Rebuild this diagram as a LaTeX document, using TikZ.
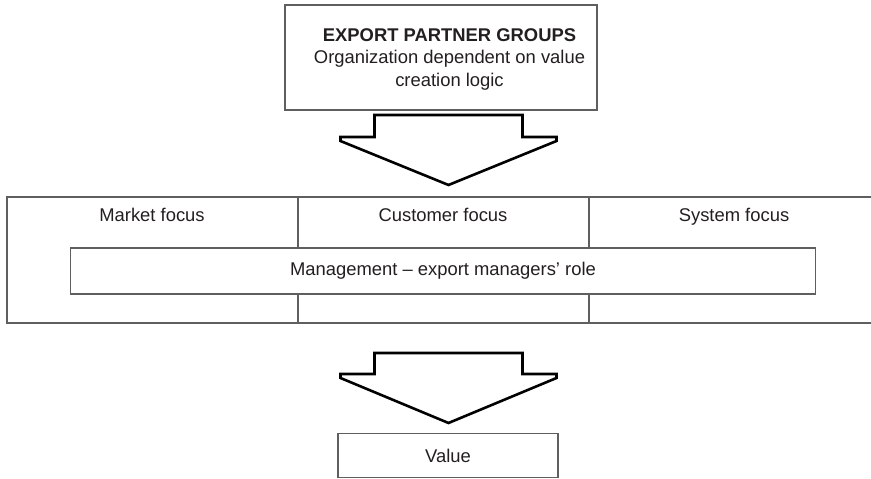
\documentclass[tikz,border=0pt]{standalone}
\usepackage{fontspec}
\setmainfont{Liberation Sans}
\usetikzlibrary{calc}

\definecolor{boxgray}{RGB}{95,95,95}
\definecolor{inkgray}{RGB}{35,31,32}

\tikzset{
  box/.style={draw=boxgray, line width=1.1pt, fill=white, inner sep=0pt,
    align=center, text=inkgray, font=\fontsize{18.4}{22.5}\selectfont},
  focustext/.style={inner sep=0pt, anchor=base, align=center, text=inkgray,
    font=\fontsize{18.4}{22.5}\selectfont},
  blockarrow/.style={draw=black, line width=2.6pt, fill=white, line join=miter}
}

\begin{document}
\begin{tikzpicture}[x=1pt, y=-1pt]

  \path[use as bounding box, clip] (0,0) rectangle (871,479);

  % export partner groups (top box), text sits a bit right of centre
  \node[box, minimum width=312pt, minimum height=105pt] (groups) at (441,57.5) {};
  \node[focustext, anchor=center] (groupstext) at (449.5,59)
    {\textbf{EXPORT PARTNER GROUPS}\\Organization dependent on value\\creation logic};

  % upper block arrow
  \draw[blockarrow, shift={(448.5,115)}] (-74,0) -- (74,0) -- (74,22) -- (108,22)
    -- (108,26) -- (0,70) -- (-108,26) -- (-108,22) -- (-74,22) -- cycle;

  % focus frame, runs past the right edge
  \node[box, minimum width=873pt, minimum height=126pt] (frame) at (443.5,260) {};
  \coordinate (d0) at (298,197);
  \coordinate (d1) at (298,323);
  \coordinate (d2) at (589,197);
  \coordinate (d3) at (589,323);
  \draw[boxgray, line width=1.1pt] (d0) -- (d1);
  \draw[boxgray, line width=1.1pt] (d2) -- (d3);

  \node[focustext] (market) at (152,221) {Market focus};
  \node[focustext] (customer) at (443,221) {Customer focus};
  \node[focustext] (system) at (734,221) {System focus};

  % management box over the columns
  \node[box, minimum width=745pt, minimum height=46pt] (mgmt) at (443,271)
    {Management -- export managers' role};

  % lower block arrow
  \draw[blockarrow, shift={(448.5,353)}] (-74,0) -- (74,0) -- (74,21) -- (108,21)
    -- (108,25) -- (0,70) -- (-108,25) -- (-108,21) -- (-74,21) -- cycle;

  % value box
  \node[box, minimum width=220pt, minimum height=44.5pt] (value) at (448,455.5) {Value};

\end{tikzpicture}
\end{document}
